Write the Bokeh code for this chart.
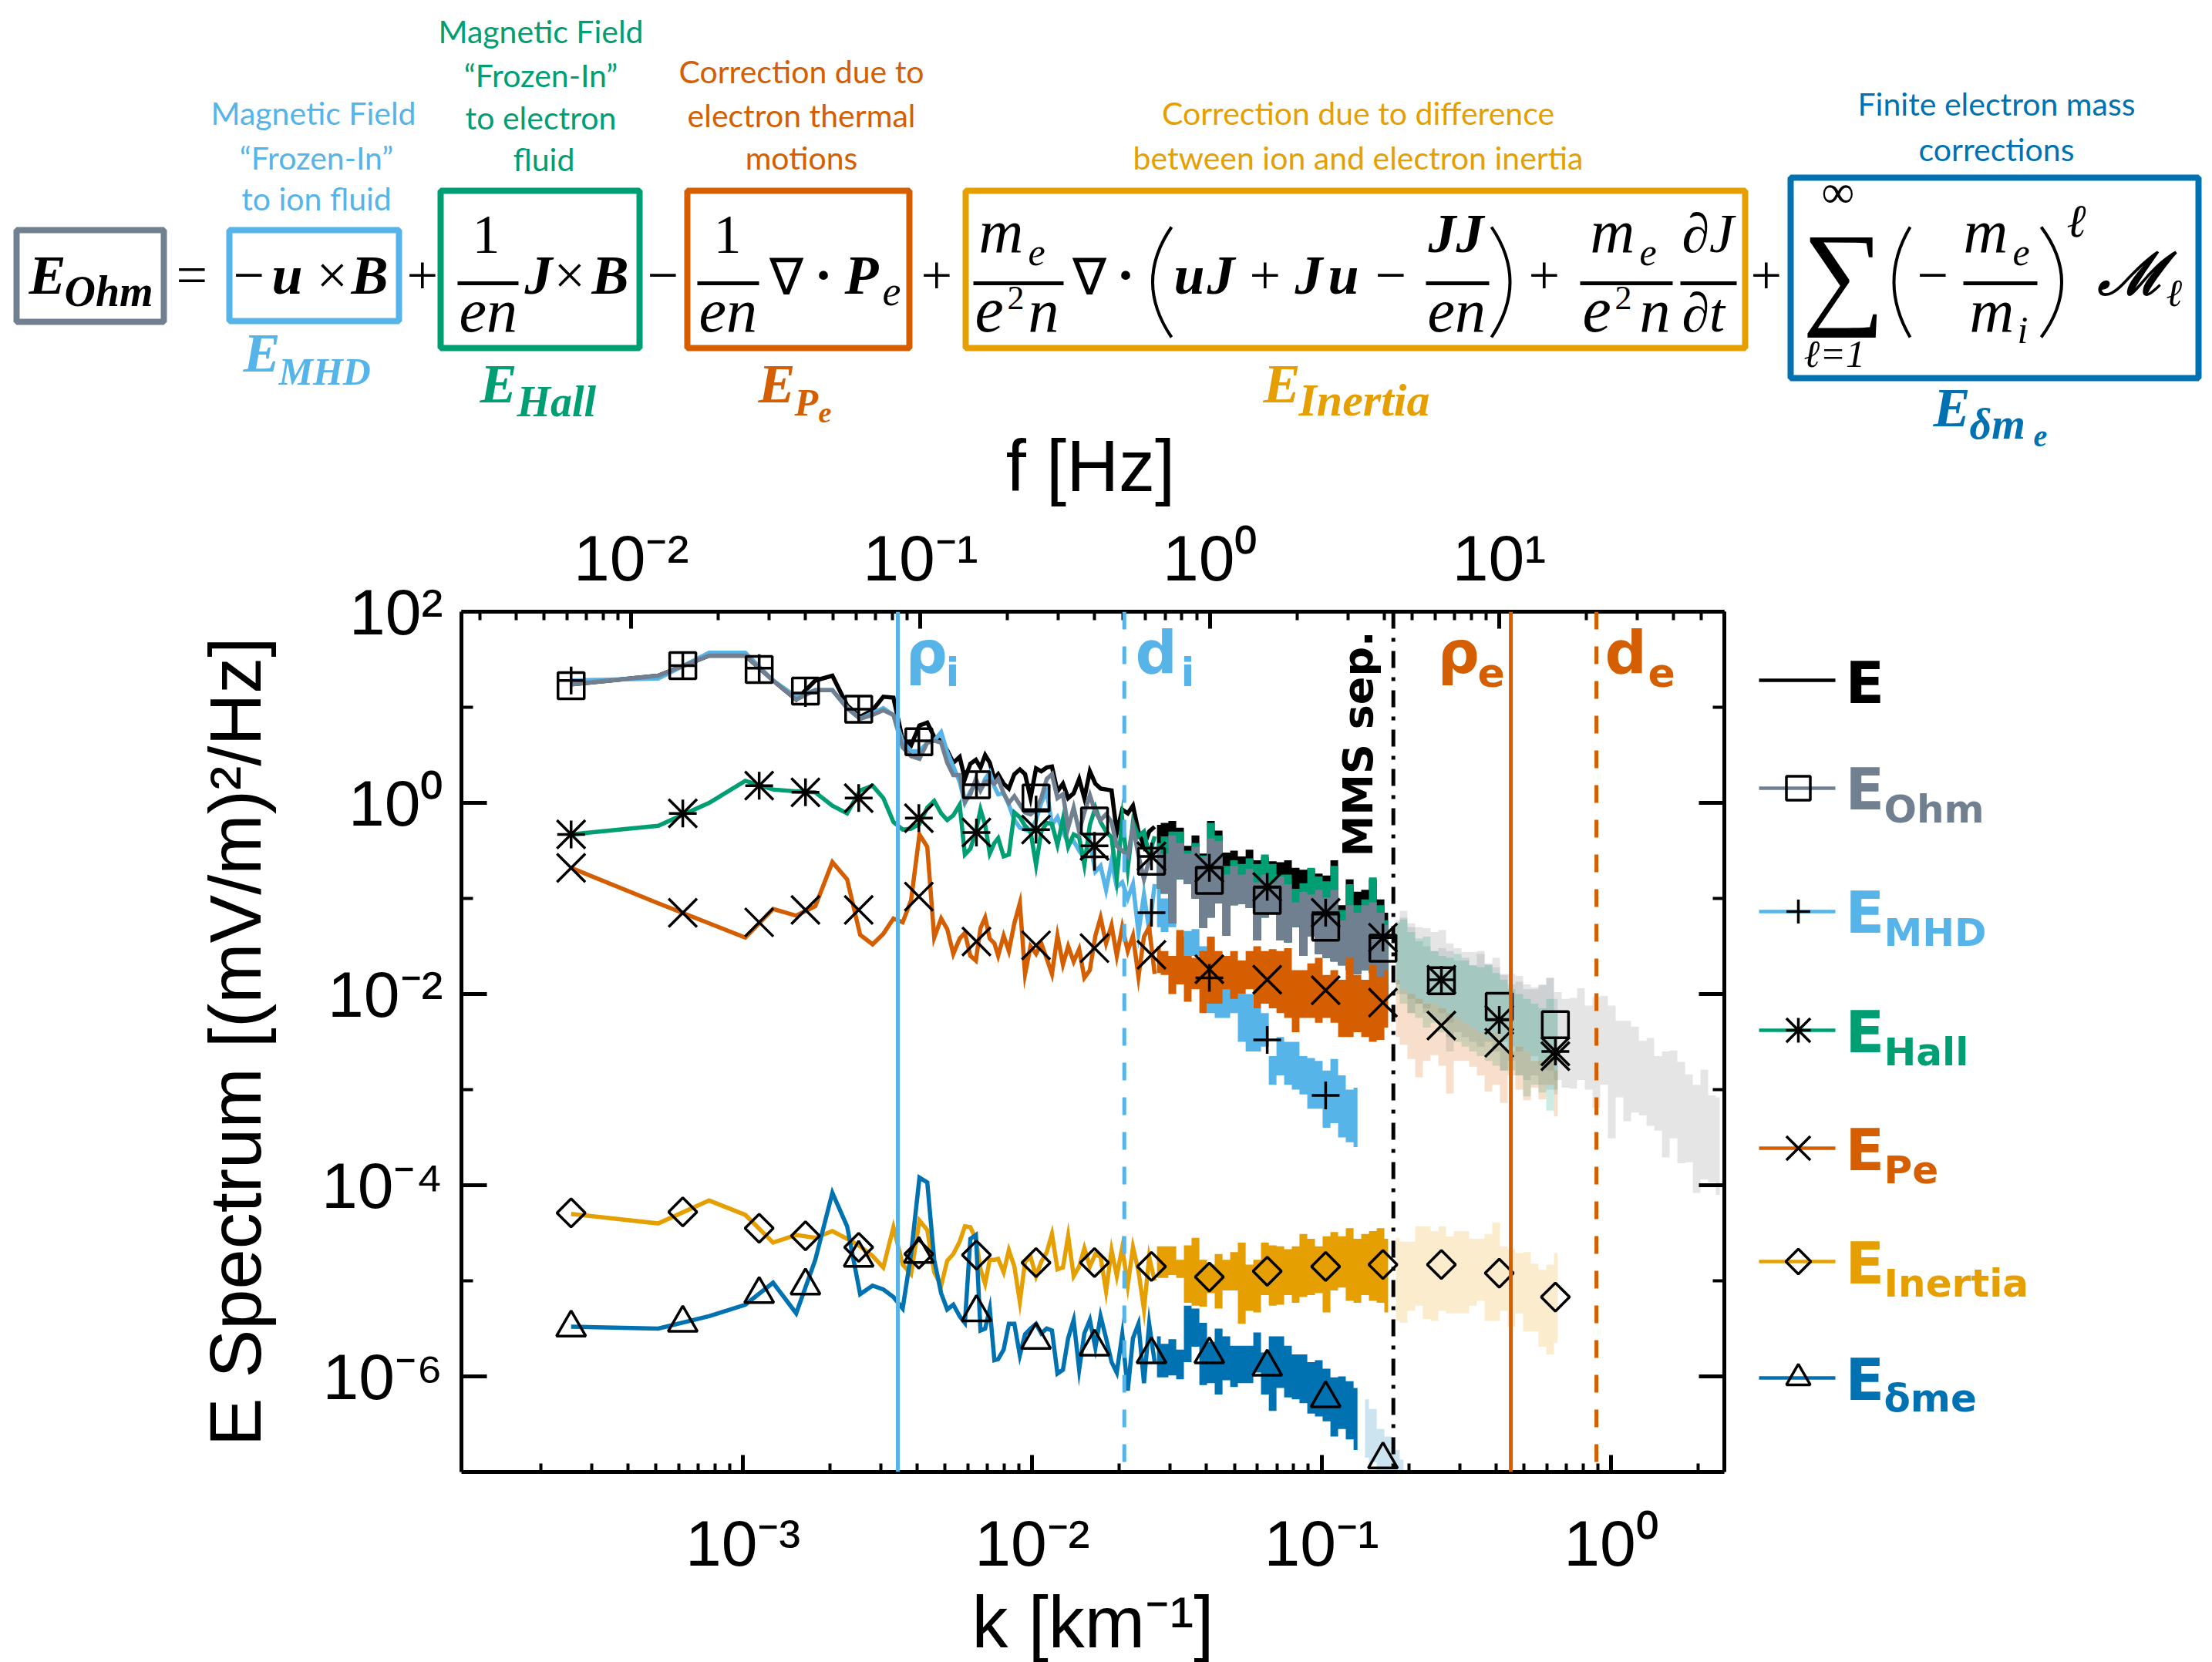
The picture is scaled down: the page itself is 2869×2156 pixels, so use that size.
import numpy as np
from bokeh.core.properties import value
from bokeh.embed import file_html
from bokeh.layouts import column, row
from bokeh.models import BasicTickFormatter, FixedTicker, Label, LogAxis, LogScale, Range1d, Span
from bokeh.plotting import figure
from bokeh.resources import INLINE

# colours
c_E = "#000000"
c_ohm = "#708090"
c_mhd = "#56B4E9"
c_hall = "#009E73"
c_pe = "#D55E00"
c_inertia = "#E69F00"
c_delta = "#0072B2"

# log10 k [km-1] of the distinct line vertices at low k
log_k_line = [-3.594, -3.293, -3.117, -2.992, -2.896, -2.816, -2.750, -2.691, -2.640, -2.595,
              -2.552, -2.515, -2.480, -2.448, -2.419, -2.390, -2.363, -2.339, -2.315, -2.294,
              -2.273, -2.251, -2.233, -2.214, -2.195, -2.179, -2.163, -2.147, -2.131, -2.118,
              -2.099, -2.081, -2.062, -2.043, -2.025, -2.006, -1.987, -1.969, -1.950, -1.932,
              -1.913, -1.894, -1.876, -1.857, -1.838, -1.820, -1.801, -1.782, -1.764, -1.745,
              -1.726, -1.708, -1.689, -1.670, -1.652, -1.633, -1.614, -1.596, -1.577]

# log10 spectrum along log_k_line
e_line = [1.24, 1.33, 1.54, 1.54, 1.28, 1.08, 1.28, 1.33, 1.02, .9, .97, 1.11, 1.1, .66, .6, .81, .84, .69, .65, .55,
          .42, .48, .25, .41, .45, .37, .5, .42, .25, .3, .2, .15, .3, .35, .3, .05, .36, .33, .37, .38,
          .12, .2, .05, .1, .25, .05, .33, .2, .15, .14, .13, -.31, -.07, -.11, -.03, -.3, -.45, -.3, -.25]
ohm_line = [1.24, 1.33, 1.54, 1.54, 1.28, 1.08, 1.18, 1.18, .99, .88, .92, .97, .92, .58, .49, .46, .63, .65, .63, .42,
            .29, .29, .01, .09, .25, .13, .22, .23, .2, .25, .1, 0, .07, -.02, -.1, -.12, -.07, .05, .25, .3,
            .05, .09, -.26, -.05, -.3, -.1, .08, -.1, -.18, -.12, -.2, -.45, -.5, -.56, -.25, -.55, -.8, -.6, -.5]
mhd_line = [1.28, 1.3, 1.57, 1.57, 1.28, 1.11, 1.18, 1.18, 1.0, .88, .94, .99, .92, .64, .54, .54, .63, .65, .74, .53,
            .38, .22, 0, .12, .2, .14, .25, .32, .17, .09, .1, -.02, -.18, -.26, -.28, -.3, -.18, 0, .12, -.23,
            -.15, -.3, -.42, -.4, -.5, -.58, -.4, -.72, -.66, -.91, -.61, -.88, -.83, -1.0, -.85, -1.36, -.96, -1.33, -.85]
hall_line = [-.33, -.24, 0, .23, .14, .12, .11, -.03, -.11, .13, .18, .05, -.2, -.28, -.27, -.22, -.05, .02, -.11, -.18,
             -.13, -.02, -.54, -.48, -.3, -.07, -.23, -.53, -.42, -.37, -.56, -.54, -.1, -.15, -.24, -.3, -.65, -.3, -.21, -.22,
             -.44, -.17, -.46, -.33, -.36, -.65, -.23, -.05, -.2, -.3, -.36, -.79, -.17, -.69, -.2, -.35, -.3, -.55, -.35]
pe_line = [-.68, -1.05, -1.26, -1.41, -1.11, -1.18, -1.08, -.62, -.8, -1.38, -1.48, -1.37, -1.21, -1.25, -1.02, -.33, -.46, -1.41, -1.21, -1.32,
           -1.58, -1.42, -1.36, -1.6, -1.65, -1.31, -1.2, -1.42, -1.47, -1.6, -1.39, -1.55, -1.26, -1.05, -1.79, -1.5, -1.58, -1.47, -1.63, -1.79,
           -1.39, -1.69, -1.5, -1.66, -1.53, -1.83, -1.75, -1.39, -1.2, -1.47, -1.28, -1.6, -1.3, -1.55, -1.39, -1.82, -1.4, -1.3, -1.79]
inertia_line = [-4.30, -4.40, -4.16, -4.31, -4.6, -4.52, -4.55, -4.48, -4.56, -4.64, -4.74, -4.86, -4.44, -4.83, -4.93, -4.37, -4.47, -4.91, -5.05, -4.79,
                -4.72, -4.59, -4.43, -4.44, -4.56, -4.88, -5.03, -4.78, -4.78, -4.77, -4.91, -4.68, -4.85, -5.22, -4.8, -4.75, -4.95, -4.8, -4.7, -4.51,
                -4.88, -4.86, -4.53, -4.95, -4.85, -4.66, -4.85, -4.72, -4.75, -5.11, -4.68, -4.95, -4.65, -5.05, -4.65, -4.9, -5.3, -4.75, -5.0]
delta_line = [-5.48, -5.5, -5.37, -5.25, -5.02, -5.34, -4.78, -4.08, -4.43, -5.14, -5.05, -5.09, -5.17, -5.29, -4.72, -3.92, -3.97, -4.78, -5.13, -5.3,
              -5.25, -5.37, -5.44, -4.56, -4.52, -5.52, -5.5, -5.29, -5.83, -5.82, -5.72, -5.45, -5.45, -5.78, -5.56, -5.5, -5.45, -5.55, -5.5, -5.52,
              -5.97, -5.93, -5.6, -5.41, -5.93, -5.55, -5.41, -5.7, -5.37, -5.6, -5.85, -5.96, -5.56, -6.15, -5.6, -5.45, -6.07, -5.45, -5.85]

# high k: the curves are dense, read as upper / lower edges of the noise band
log_k_band = [-1.569, -1.543, -1.516, -1.489, -1.463, -1.436, -1.409, -1.383, -1.356, -1.329, -1.303,
              -1.276, -1.249, -1.223, -1.196, -1.169, -1.143, -1.116, -1.090, -1.063, -1.036,
              -1.010, -0.983, -0.956, -0.930, -0.903, -0.876, -0.850, -0.823, -0.796, -0.770]
e_hi = [-.23, -.21, -.19, -.26, -.45, -.34, -.53, -.19, -.29, -.52, -.5, -.56, -.49, -.6, -.57, -.61,
        -.62, -.6, -.68, -.7, -.69, -.74, -.76, -.6, -1.07, -.8, -.93, -.91, -.8, -1.01, -1.15]
hall_hi = [-.42, -.35, -.3, -.3, -.5, -.42, -.55, -.21, -.34, -.66, -.6, -.64, -.58, -.64, -.54, -.64,
           -.75, -.75, -.9, -.84, -.68, -.77, -.82, -.66, -1.12, -.85, -1.07, -1.01, -.78, -1.07, -1.23]
ohm_hi = [-.48, -.53, -.34, -.42, -.53, -.46, -.56, -.37, -.4, -.75, -.66, -.75, -.69, -.83, -.75, -.83,
          -.77, -.85, -1.04, -.93, -.96, -.91, -.99, -.91, -1.23, -1.07, -1.15, -1.07, -1.04, -1.15, -1.28]
ohm_lo = [-.9, -.95, -1.26, -.8, -.85, -1.0, -1.31, -1.2, -1.05, -1.39, -1.07, -1.06, -1.1, -1.44, -1.2, -1.15,
          -1.44, -1.46, -1.3, -1.6, -1.4, -1.58, -1.62, -1.66, -1.7, -1.75, -1.79, -1.75, -1.78, -1.9, -2.01]
mhd_hi = [-.85, -1.0, -1.15, -1.4, -1.34, -1.32, -1.5, -1.42, -1.7, -1.9, -1.9, -2.0, -2.0, -2.15, -2.2, -2.65,
          -2.45, -2.5, -2.5, -2.65, -2.67, -2.7, -2.8, -2.68, -2.85, -3.0, -2.98]
mhd_lo = [-1.3, -1.35, -1.3, -1.7, -1.7, -1.6, -1.85, -2.2, -2.25, -2.25, -2.2, -2.5, -2.6, -2.6, -2.55, -2.95,
          -2.85, -2.95, -3.0, -3.05, -3.2, -3.2, -3.4, -3.35, -3.5, -3.55, -3.6]
pe_hi = [-1.5, -1.55, -1.6, -1.33, -1.6, -1.62, -1.55, -1.4, -1.55, -1.6, -1.55, -1.65, -1.55, -1.5, -1.55, -1.53,
         -1.55, -1.52, -1.75, -1.75, -1.68, -1.62, -1.8, -1.75, -1.85, -1.62, -1.8, -1.85, -1.7, -1.82, -1.75]
pe_lo = [-1.78, -1.8, -2.0, -1.9, -2.08, -1.95, -2.2, -2.1, -2.1, -1.95, -2.05, -2.0, -1.95, -2.15, -2.1, -2.15,
         -2.2, -2.25, -2.4, -2.25, -2.25, -2.3, -2.25, -2.3, -2.45, -2.45, -2.4, -2.45, -2.5, -2.48, -2.35]
inertia_hi = [-4.64, -4.64, -4.64, -4.78, -4.63, -4.55, -4.78, -4.83, -4.72, -4.78, -4.70, -4.60, -4.83, -4.78, -4.60, -4.63,
              -4.64, -4.67, -4.64, -4.51, -4.56, -4.64, -4.535, -4.49, -4.535, -4.45, -4.56, -4.51, -4.48, -4.45, -4.56]
inertia_lo = [-4.97, -4.97, -4.94, -4.97, -5.23, -5.26, -5.27, -5.13, -5.29, -5.10, -5.10, -5.45, -5.315, -5.33, -5.15, -5.26,
              -5.25, -5.15, -5.23, -5.17, -5.15, -5.13, -5.33, -5.10, -5.07, -5.21, -5.23, -5.15, -5.21, -5.23, -5.33]
delta_hi = [-5.58, -5.66, -5.61, -5.72, -5.26, -5.29, -5.44, -5.64, -5.5, -5.58, -5.68, -5.68, -5.68, -5.54, -5.75, -5.58,
            -5.58, -5.68, -5.77, -5.77, -5.85, -5.83, -5.92, -6.01, -6.0, -6.05, -6.12]
delta_lo = [-6.01, -6.01, -5.99, -6.03, -5.85, -5.69, -6.09, -6.07, -6.19, -6.04, -6.11, -6.07, -6.07, -5.96, -6.19, -6.36,
            -6.12, -6.22, -6.24, -6.28, -6.39, -6.42, -6.47, -6.63, -6.55, -6.66, -6.77]

# beyond the MMS separation: faded part of the spectra
log_k_fade = [-0.743, -0.717, -0.690, -0.663, -0.637, -0.610, -0.583, -0.557, -0.530, -0.503, -0.477,
              -0.450, -0.423, -0.397, -0.370, -0.344, -0.317, -0.290, -0.264, -0.237, -0.210, -0.184,
              -0.157, -0.130, -0.104, -0.077, -0.050, -0.024, 0.003, 0.030, 0.056, 0.083, 0.110,
              0.136, 0.163, 0.190, 0.216, 0.243, 0.270, 0.296, 0.323, 0.349, 0.376]
e_fade_hi = [-1.23, -1.13, -1.26, -1.3, -1.31, -1.35, -1.33, -1.47, -1.52, -1.56, -1.56, -1.55, -1.69, -1.62, -1.79, -1.79,
             -1.81, -1.9, -1.93, -1.91, -1.83, -1.98, -2.05, -2.04, -1.94, -2.12, -2.03, -2.02, -2.12, -2.28, -2.28, -2.34,
             -2.49, -2.46, -2.65, -2.6, -2.59, -2.71, -2.84, -2.95, -2.79, -3.06, -3.08]
e_fade_lo = [-1.9, -1.95, -2.05, -2.1, -2.15, -2.1, -2.2, -2.3, -2.25, -2.3, -2.35, -2.4, -2.45, -2.4, -2.5, -2.55,
             -2.6, -2.6, -2.65, -2.75, -2.8, -2.9, -2.98, -2.99, -2.9, -3.0, -3.19, -2.95, -3.51, -3.08, -3.33, -3.24,
             -3.27, -3.38, -3.43, -3.71, -3.51, -3.77, -3.76, -4.08, -3.94, -3.97, -4.1]
ohm_fade_hi = [-1.25, -1.2, -1.3, -1.45, -1.5, -1.55, -1.52, -1.55, -1.65, -1.62, -1.7, -1.58, -1.68, -1.72, -1.8, -1.9,
               -1.87, -1.95, -1.95, -1.9, -1.83, -2.05]
ohm_fade_lo = [-1.9, -2.0, -2.2, -2.1, -2.2, -2.25, -2.3, -2.6, -2.4, -2.45, -2.5, -2.55, -2.5, -2.6, -2.8, -2.7,
               -2.85, -2.9, -2.85, -2.95, -3.0, -3.05]
hall_fade_hi = [-1.25, -1.22, -1.35, -1.42, -1.4, -1.55, -1.6, -1.62, -1.58, -1.65, -1.7, -1.72, -1.7, -1.78, -1.85, -1.95,
                -2.0, -2.05, -2.1, -2.15, -2.05, -2.2]
hall_fade_lo = [-2.0, -2.1, -2.2, -2.25, -2.35, -2.3, -2.4, -2.45, -2.5, -2.55, -2.6, -2.65, -2.7, -2.75, -2.8, -2.8,
                -2.85, -3.07, -2.95, -3.03, -3.22, -3.0]
pe_fade_hi = [-1.85, -1.95, -2.0, -2.05, -2.1, -2.1, -2.15, -2.2, -2.25, -2.3, -2.35, -2.4, -2.45, -2.4, -2.55, -2.6,
              -2.55, -2.6, -2.7, -2.7, -2.65, -2.8]
pe_fade_lo = [-2.45, -2.53, -2.68, -2.87, -2.7, -2.64, -2.75, -3.04, -2.7, -2.7, -2.76, -2.85, -3.02, -2.95, -3.14, -2.85,
              -3.0, -3.11, -2.98, -3.1, -2.95, -3.28]
inertia_fade_hi = [-4.55, -4.59, -4.59, -4.43, -4.43, -4.48, -4.43, -4.535, -4.48, -4.48, -4.56, -4.56, -4.51, -4.39, -4.64, -4.67,
                   -4.71, -4.70, -4.82, -4.885, -4.83, -4.71]
inertia_fade_lo = [-5.42, -5.44, -5.315, -5.26, -5.40, -5.42, -5.315, -5.34, -5.34, -5.34, -5.26, -5.21, -5.42, -5.42, -5.315, -5.48,
                   -5.34, -5.53, -5.53, -5.69, -5.77, -5.65]
log_k_delta_fade = [-0.850, -0.823, -0.796, -0.770, -0.743, -0.717]
delta_fade_hi = [-6.24, -6.34, -6.55, -6.63, -6.77, -6.87]
delta_fade_lo = [-6.85, -6.9, -7.0, -7.0, -7.0, -7.0]

# symbols, every series has its own readings at these k
log_k_mark = [-3.594, -3.208, -2.944, -2.784, -2.600, -2.392, -2.193, -1.987, -1.785,
              -1.588, -1.388, -1.188, -0.986, -0.788, -0.586, -0.386, -0.192]
ohm_mark = [1.226, 1.435, 1.395, 1.17, .98, .64, .19, .05, -.19, -.61, -.81, -1.02, -1.30, -1.52, -1.86, -2.13, -2.32]
mhd_mark = [1.28, 1.435, 1.41, 1.15, .98, .65, .19, -.07, -.565, -1.15, -1.83, -2.48, -3.06]
hall_mark = [-.33, -.11, .18, .11, .05, -.16, -.31, -.28, -.45, -.56, -.68, -.88, -1.15, -1.41, -1.85, -2.27, -2.6]
pe_mark = [-.68, -1.15, -1.25, -1.12, -1.12, -.98, -1.45, -1.49, -1.52, -1.59, -1.74, -1.85, -1.96, -2.09, -2.33, -2.51, -2.65]
inertia_mark = [-4.29, -4.28, -4.45, -4.53, -4.65, -4.72, -4.73, -4.81, -4.81, -4.85, -4.96, -4.90, -4.85, -4.83, -4.83, -4.92, -5.17]
delta_mark = [-5.49, -5.44, -5.14, -5.05, -4.76, -4.72, -5.33, -5.62, -5.69, -5.77, -5.77, -5.90, -6.23, -6.87]

# characteristic scales, km-1
k_rho_i = 3.43e-3
k_d_i = 0.0208
k_mms = 0.177
k_rho_e = 0.451
k_d_e = 0.891

# axes
k_range = (1.064e-4, 2.466)
f_range = (2.59e-3, 60.0)
e_range = (1e-7, 1e2)
k_ticks = {1e-3: "10⁻³", 1e-2: "10⁻²", 1e-1: "10⁻¹", 1e0: "10⁰"}
f_ticks = {1e-2: "10⁻²", 1e-1: "10⁻¹", 1e0: "10⁰", 1e1: "10¹"}
e_ticks = {1e2: "10²", 1e0: "10⁰", 1e-2: "10⁻²", 1e-4: "10⁻⁴", 1e-6: "10⁻⁶"}
e_minor = [1e1, 1e-1, 1e-3, 1e-5]


def dec(values):
    return 10.0 ** np.array(values)


def decade_minors(lo, hi):
    return [m * 10.0 ** e for e in range(lo, hi) for m in range(2, 10)]


# svg text with an alphabetic baseline lands this fraction of its size too low
BASE_SHIFT = 0.39
FRAME_LEFT, FRAME_BOTTOM = 598, 1909


def main_label(text, px, py, size, color, angle=0):
    if angle:
        px = px - BASE_SHIFT * size
    else:
        py = py - BASE_SHIFT * size
    return Label(x=px - FRAME_LEFT, y=FRAME_BOTTOM - py, x_units="screen", y_units="screen", text=text,
                 text_font="DejaVu Sans", text_font_style="bold", text_font_size=f"{size}px", text_color=color,
                 text_baseline="alphabetic", angle=angle)


p = figure(frame_width=1638, frame_height=1116, min_border_left=598, min_border_right=6, min_border_top=133,
           min_border_bottom=239, x_axis_type="log", y_axis_type="log", x_range=Range1d(*k_range), y_range=Range1d(*e_range),
           output_backend="svg", toolbar_location=None)
p.grid.visible = False
p.outline_line_color = None
p.extra_x_ranges = {"f": Range1d(*f_range)}
p.extra_x_scales = {"f": LogScale()}
p.add_layout(LogAxis(x_range_name="f"), "above")
p.add_layout(LogAxis(), "right")

for ax, major, minors in ((p.below[0], k_ticks, decade_minors(-4, 1)), (p.above[0], f_ticks, decade_minors(-3, 2))):
    ax.ticker = FixedTicker(ticks=list(major), minor_ticks=minors)
    ax.major_label_overrides = major
    ax.major_tick_in, ax.minor_tick_in = 22, 11
for ax in (p.left[0], p.right[0]):
    ax.ticker = FixedTicker(ticks=list(e_ticks), minor_ticks=e_minor)
    ax.major_label_overrides = e_ticks
    ax.major_tick_in, ax.minor_tick_in = 33, 15
for ax in (p.below[0], p.above[0], p.left[0], p.right[0]):
    ax.formatter = BasicTickFormatter()
    ax.major_tick_out = ax.minor_tick_out = 0
    ax.axis_line_width = 5
    ax.major_tick_line_width = 5
    ax.minor_tick_line_width = 4
    ax.major_label_text_font = "Liberation Sans"
    ax.major_label_text_font_size = "84px"
    ax.major_label_text_color = "black"
    ax.axis_label_text_font = "Liberation Sans"
    ax.axis_label_text_font_style = "normal"
    ax.axis_label_text_font_size = "94px"
    ax.axis_label_text_color = "black"
p.right[0].major_label_overrides = {t: "" for t in e_ticks}
p.below[0].axis_label = "k [km⁻¹]"
p.left[0].axis_label = "E Spectrum [(mV/m)²/Hz]"
p.below[0].major_label_standoff = 45
p.above[0].major_label_standoff = 23
p.left[0].major_label_standoff = 24
p.below[0].axis_label_standoff = 0
p.left[0].axis_label_standoff = 56

fade_alpha = 0.2

# faded tails first, so the solid bands sit on top
p.varea_step(x=dec(log_k_fade), y1=dec(e_fade_lo), y2=dec(e_fade_hi), step_mode="center", fill_color=c_E, fill_alpha=0.1)
n_fade = len(ohm_fade_hi)
for hi, lo, col in ((ohm_fade_hi, ohm_fade_lo, c_ohm), (hall_fade_hi, hall_fade_lo, c_hall),
                    (pe_fade_hi, pe_fade_lo, c_pe), (inertia_fade_hi, inertia_fade_lo, c_inertia)):
    p.varea_step(x=dec(log_k_fade[:n_fade]), y1=dec(lo), y2=dec(hi), step_mode="center", fill_color=col, fill_alpha=fade_alpha)
p.varea_step(x=dec(log_k_delta_fade), y1=dec(delta_fade_lo), y2=dec(delta_fade_hi), step_mode="center",
             fill_color=c_delta, fill_alpha=fade_alpha)

# solid part, drawing order as in the picture
layers = ((e_line, e_hi, ohm_lo, c_E), (mhd_line, mhd_hi, mhd_lo, c_mhd), (hall_line, hall_hi, ohm_lo, c_hall),
          (ohm_line, ohm_hi, ohm_lo, c_ohm), (pe_line, pe_hi, pe_lo, c_pe), (inertia_line, inertia_hi, inertia_lo, c_inertia),
          (delta_line, delta_hi, delta_lo, c_delta))
for line, hi, lo, col in layers:
    p.line(x=dec(log_k_line[:len(line)]), y=dec(line), line_color=col, line_width=5.5, line_join="miter")
    p.varea_step(x=dec(log_k_band[:len(hi)]), y1=dec(lo), y2=dec(hi), step_mode="center", fill_color=col)

# symbols; the Hall star has eight arms, so a cross over an x
marks = ((ohm_mark, "square", 34), (mhd_mark, "cross", 36), (hall_mark, "cross", 36), (hall_mark, "x", 52), (pe_mark, "x", 52),
         (delta_mark, "triangle", 38))
for vals, marker, size in marks:
    p.scatter(x=dec(log_k_mark[:len(vals)]), y=dec(vals), marker=marker, size=size, line_color="black", line_width=3.5,
              fill_color=None)
p.scatter(x=dec(log_k_mark), y=dec(inertia_mark), marker="square", angle=np.pi / 4, size=26, line_color="black",
          line_width=3.5, fill_color=None)

# scales
p.add_layout(Span(location=k_rho_i, dimension="height", line_color=c_mhd, line_width=5))
p.add_layout(Span(location=k_d_i, dimension="height", line_color=c_mhd, line_width=5, line_dash=[23, 22]))
p.add_layout(Span(location=k_mms, dimension="height", line_color="black", line_width=5, line_dash=[22, 12, 5, 12]))
p.add_layout(Span(location=k_rho_e, dimension="height", line_color=c_pe, line_width=5))
p.add_layout(Span(location=k_d_e, dimension="height", line_color=c_pe, line_width=5, line_dash=[23, 22]))

for lab in (main_label("ρ", 1174, 876, 76, c_mhd), main_label("i", 1226, 892, 52, c_mhd),
            main_label("d", 1472, 876, 76, c_mhd), main_label("i", 1531, 892, 52, c_mhd),
            main_label("ρ", 1864, 876, 76, c_pe), main_label("e", 1916, 892, 52, c_pe),
            main_label("d", 2081, 876, 76, c_pe), main_label("e", 2137, 892, 52, c_pe),
            main_label("MMS sep.", 1782, 1111, 54, "black", angle=np.pi / 2)):
    p.add_layout(lab)

# equation strip, in picture pixels; it also carries the f axis title, which shares its band with the names under the boxes
eq = figure(width=2869, height=660, min_border=0, x_range=Range1d(0, 2869), y_range=Range1d(660, 0),
            output_backend="svg", toolbar_location=None)
eq.axis.visible = False
eq.grid.visible = False
eq.outline_line_color = None

boxes = [(21, 298, 212, 417, c_ohm), (297, 298, 517, 416, c_mhd), (571, 247, 829, 451, c_hall),
         (891, 247, 1179, 451, c_pe), (1252, 247, 2263, 451, c_inertia), (2322, 230, 2851, 490, c_delta)]
for x0, y0, x1, y1, col in boxes:
    eq.quad(left=x0, right=x1, top=y0, bottom=y1, fill_color=None, line_color=col, line_width=8)

for x0, x1 in ((593, 672), (904, 984), (1262, 1379), (1849, 1931), (2049, 2169), (2179, 2252), (2546, 2642)):
    eq.segment(x0=x0, y0=367, x1=x1, y1=367, line_color="black", line_width=5)
for x0, cx in ((1519, 1470), (1934, 1982), (2477, 2435), (2647, 2700)):
    eq.quadratic(x0=x0, y0=294, x1=x0, y1=437, cx=cx, cy=365, line_color="black", line_width=4)

serif = "Liberation Serif"
BI, IT, RE = "bold italic", "italic", "normal"
eq_text = [
    ("E", 37, 385, 72, BI), ("Ohm", 83, 399, 56, BI), ("=", 228, 385, 72, RE),
    ("−", 302, 385, 72, RE), ("u", 352, 385, 72, BI), ("×", 410, 385, 72, RE), ("B", 455, 385, 72, BI),
    ("+", 527, 385, 72, RE),
    ("1", 612, 332, 72, RE), ("en", 595, 434, 80, IT), ("J", 680, 385, 72, BI),
    ("×", 718, 385, 72, RE), ("B", 767, 385, 72, BI),
    ("−", 839, 385, 72, RE),
    ("1", 925, 332, 72, RE), ("en", 906, 434, 80, IT), ("∇", 997, 385, 66, RE),
    ("·", 1058, 385, 72, BI), ("P", 1095, 385, 72, BI), ("e", 1144, 399, 54, IT),
    ("+", 1194, 385, 72, RE),
    ("m", 1269, 331, 80, IT), ("e", 1333, 346, 50, IT),
    ("e", 1264, 434, 84, IT), ("2", 1306, 403, 44, RE), ("n", 1333, 434, 80, IT),
    ("∇", 1390, 385, 66, RE), ("·", 1450, 385, 72, BI),
    ("u", 1522, 385, 72, BI), ("J", 1565, 385, 72, BI), ("+", 1620, 385, 72, RE),
    ("J", 1679, 385, 72, BI), ("u", 1722, 385, 72, BI), ("−", 1783, 385, 72, RE),
    ("JJ", 1852, 331, 72, BI), ("en", 1851, 434, 80, IT), ("+", 1982, 385, 72, RE),
    ("m", 2062, 331, 80, IT), ("e", 2126, 346, 50, IT),
    ("e", 2052, 434, 84, IT), ("2", 2094, 403, 44, RE), ("n", 2126, 434, 80, IT),
    ("∂J", 2181, 331, 72, IT), ("∂t", 2181, 434, 72, IT),
    ("+", 2270, 385, 72, RE),
    ("∞", 2362, 272, 60, RE), ("∑", 2337, 413, 150, RE), ("ℓ=1", 2339, 478, 50, IT),
    ("−", 2486, 385, 72, RE), ("m", 2546, 331, 80, IT), ("e", 2610, 346, 50, IT),
    ("m", 2554, 434, 80, IT), ("i", 2616, 447, 50, IT), ("ℓ", 2680, 310, 60, IT),
    ("ℳ", 2720, 385, 76, BI), ("ℓ", 2809, 399, 50, IT),
]
for text, x, y, size, style in eq_text:
    eq.text(x=[x], y=[y - BASE_SHIFT * size], text=[text], text_font=value(serif), text_font_size=f"{size}px",
            text_font_style=style, text_color="black", text_baseline="alphabetic", text_align="left")

eq_names = [
    ("E", 315, 486, 72, c_mhd), ("MHD", 361, 501, 50, c_mhd),
    ("E", 622, 526, 72, c_hall), ("Hall", 670, 542, 56, c_hall),
    ("E", 983, 526, 72, c_pe), ("P", 1030, 541, 50, c_pe), ("e", 1061, 550, 38, c_pe),
    ("E", 1638, 526, 72, c_inertia), ("Inertia", 1684, 542, 60, c_inertia),
    ("E", 2507, 557, 72, c_delta), ("δm", 2554, 571, 56, c_delta), ("e", 2637, 581, 40, c_delta),
]
for text, x, y, size, col in eq_names:
    eq.text(x=[x], y=[y - BASE_SHIFT * size], text=[text], text_font=value(serif), text_font_size=f"{size}px",
            text_font_style=BI, text_color=col, text_baseline="alphabetic", text_align="left")

captions = [
    ("Magnetic Field", 406, 146, c_mhd), ("“Frozen-In”", 410, 204, c_mhd), ("to ion fluid", 410, 257, c_mhd),
    ("Magnetic Field", 701, 40, c_hall), ("“Frozen-In”", 701, 97, c_hall), ("to electron", 701, 152, c_hall), ("fluid", 705, 206, c_hall),
    ("Correction due to", 1039, 92, c_pe), ("electron thermal", 1039, 149, c_pe), ("motions", 1039, 204, c_pe),
    ("Correction due to difference", 1761, 146, c_inertia), ("between ion and electron inertia", 1761, 204, c_inertia),
    ("Finite electron mass", 2589, 134, c_delta), ("corrections", 2589, 193, c_delta),
]
for text, x, y, col in captions:
    eq.text(x=[x], y=[y], text=[text], text_font=value("Lato"), text_font_size="41px", text_color=col,
            text_baseline="middle", text_align="center")

eq.text(x=[1414], y=[604], text=["f [Hz]"], text_font=value("Liberation Sans"), text_font_size="94px", text_color="black",
        text_baseline="middle", text_align="center")

# legend column; its frame lines up with the main frame, so picture pixels again
leg = figure(frame_width=627, frame_height=1116, min_border_left=0, min_border_right=0, min_border_top=133,
             min_border_bottom=239, x_range=Range1d(2242, 2869), y_range=Range1d(1909, 793),
             output_backend="svg", toolbar_location=None)
leg.axis.visible = False
leg.grid.visible = False
leg.outline_line_color = None

legend_rows = [
    ("", c_E, None, 882, 914, 931), ("Ohm", c_ohm, "square", 1022, 1052, 1069), ("MHD", c_mhd, "cross", 1182, 1212, 1229),
    ("Hall", c_hall, "star", 1336, 1367, 1384), ("Pe", c_pe, "x", 1489, 1520, 1537),
    ("Inertia", c_inertia, "diamond", 1636, 1667, 1684), ("δme", c_delta, "triangle", 1787, 1818, 1833),
]
for sub, col, marker, y_line, y_e, y_sub in legend_rows:
    leg.segment(x0=2281, y0=y_line, x1=2380, y1=y_line, line_color=col, line_width=4.5)
    if marker == "diamond":
        leg.scatter(x=[2332], y=[y_line], marker="square", angle=np.pi / 4, size=23, line_color="black", line_width=3.5,
                    fill_color=None)
    elif marker == "star":
        leg.scatter(x=[2332], y=[y_line], marker="cross", size=32, line_color="black", line_width=3.5)
        leg.scatter(x=[2332], y=[y_line], marker="x", size=44, line_color="black", line_width=3.5)
    elif marker == "x":
        leg.scatter(x=[2332], y=[y_line], marker="x", size=44, line_color="black", line_width=3.5)
    elif marker:
        leg.scatter(x=[2332], y=[y_line], marker=marker, size=31, line_color="black", line_width=3.5, fill_color=None)
    leg.text(x=[2393], y=[y_e - BASE_SHIFT * 74], text=["E"], text_font=value("DejaVu Sans"), text_font_style="bold",
             text_font_size="74px", text_color=col, text_baseline="alphabetic")
    if sub:
        leg.text(x=[2443], y=[y_sub - BASE_SHIFT * 50], text=[sub], text_font=value("DejaVu Sans"), text_font_style="bold",
                 text_font_size="50px", text_color=col, text_baseline="alphabetic")

page = column(eq, row(p, leg, spacing=0), spacing=0)
open("out.html", "w").write(file_html(page, INLINE))
